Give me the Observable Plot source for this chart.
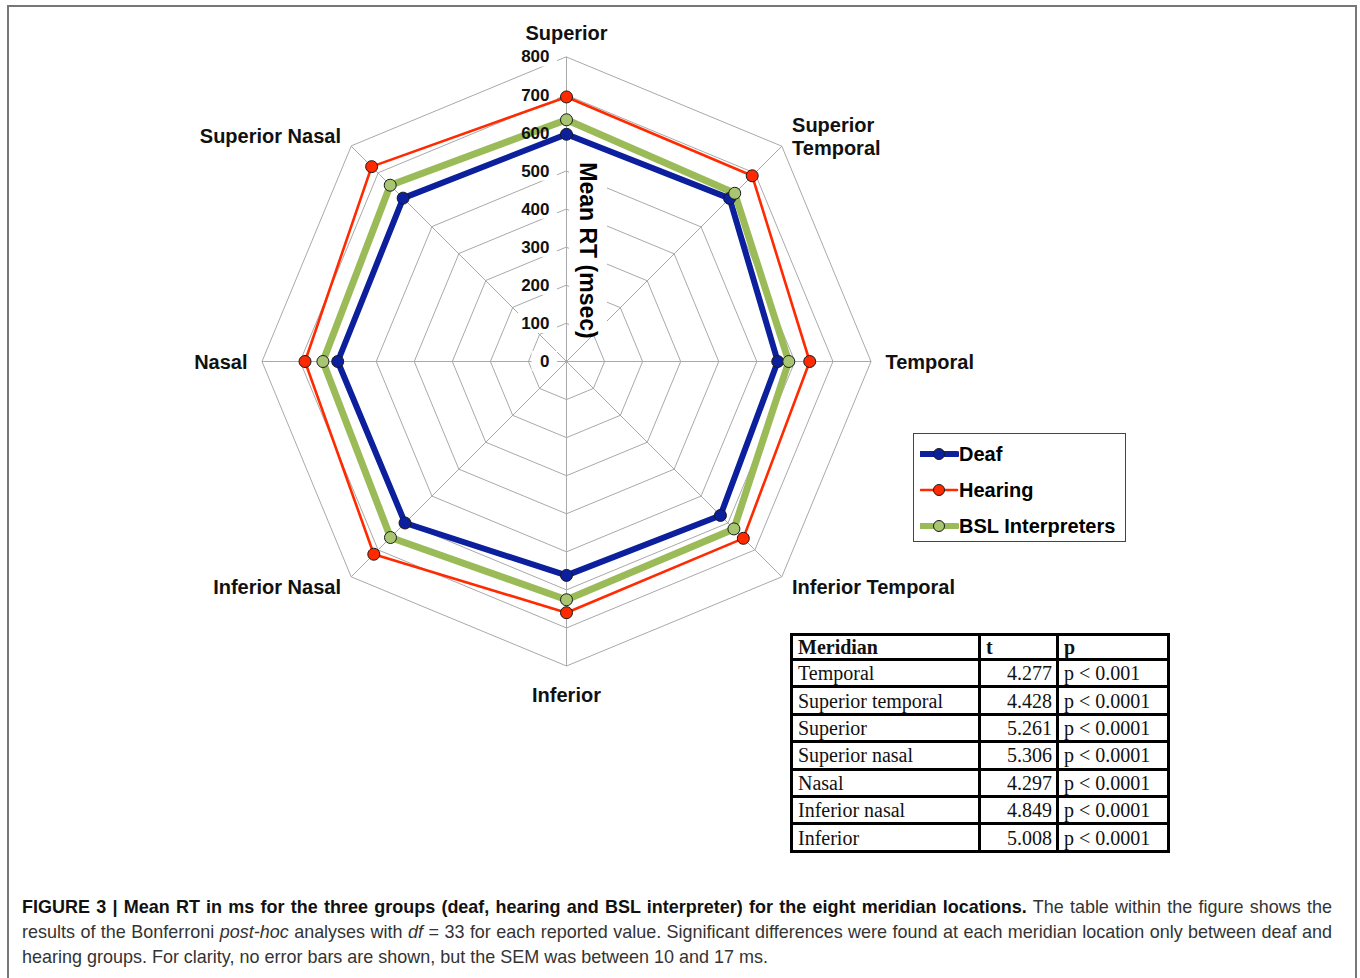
<!DOCTYPE html>
<html>
<head>
<meta charset="utf-8">
<script src="https://cdn.jsdelivr.net/npm/d3@7"></script>
<script src="https://cdn.jsdelivr.net/npm/@observablehq/plot@0.6"></script>
<style>
  html, body { margin: 0; padding: 0; background: #fff; }
  #page { position: relative; width: 1360px; height: 978px; overflow: hidden; background: #fff; }
  #frame { position: absolute; left: 7px; top: 5px; width: 1350px; height: 1010px; box-sizing: border-box;
           border: 2px solid #777; border-bottom: none; pointer-events: none; }
  #chart { position: absolute; left: 0; top: 0; }
  #legend { position: absolute; left: 913px; top: 433px; width: 213px; height: 109px; box-sizing: border-box;
            border: 1.5px solid #444; background: #fff; font-family: "Liberation Sans", Arial, sans-serif; }
  .lrow { position: absolute; left: 6px; height: 20px; display: flex; align-items: center; }
  .lrow span { font-weight: bold; font-size: 20px; color: #000; margin-left: 0px; }
  #tbl { position: absolute; left: 790px; top: 633px; border-collapse: collapse; font-family: "Liberation Serif", "Times New Roman", serif; font-size: 20px; color: #111; }
  #tbl td { border: 3px solid #000; padding: 0 4px 0 5px; height: 24.4px; line-height: 22px; white-space: nowrap; }
  #tbl tr.hd td { height: 22px; font-weight: bold; }
  #caption { position: absolute; left: 22px; top: 894px; width: 1310px; font-family: "Liberation Sans", Arial, sans-serif; font-size: 19px; color: #333; }
  .cl { height: 25px; line-height: 25px; white-space: nowrap; }
  .cl span { display: inline-block; transform-origin: left center; }
  .cl b { color: #111; }
</style>
</head>
<body>
<div id="page">
  <div id="chart"></div>
  <div id="legend"></div>
  <table id="tbl"></table>
  <div id="caption"></div>
  <div id="frame"></div>
</div>
<script>
// ---------------- DATA ----------------
const categories = ["Superior", "Superior\nTemporal", "Temporal", "Inferior Temporal", "Inferior", "Inferior Nasal", "Nasal", "Superior Nasal"];
const deaf    = [597, 606, 555, 572, 562, 600, 601, 607];
const hearing = [695, 690, 639, 657, 660, 716, 687, 724];
const bsl     = [635, 625, 584, 622, 626, 654, 640, 655];
const seriesNames = ["Deaf", "Hearing", "BSL Interpreters"];
const radialTicks = [0, 100, 200, 300, 400, 500, 600, 700, 800];
const axisTitle = "Mean RT (msec)";

const tableHeader = ["Meridian", "t", "p"];
const tableMeridian = ["Temporal", "Superior temporal", "Superior", "Superior nasal", "Nasal", "Inferior nasal", "Inferior"];
const tableT = ["4.277", "4.428", "5.261", "5.306", "4.297", "4.849", "5.008"];
const tableP = ["p < 0.001", "p < 0.0001", "p < 0.0001", "p < 0.0001", "p < 0.0001", "p < 0.0001", "p < 0.0001"];

const captionBold = "FIGURE 3 | Mean RT in ms for the three groups (deaf, hearing and BSL interpreter) for the eight meridian locations.";
const captionLines = [
  [captionBold, " The table within the figure shows the"],
  ["results of the Bonferroni ", "<i>post-hoc</i>", " analyses with ", "<i>df</i>", " = 33 for each reported value. Significant differences were found at each meridian location only between deaf and"],
  ["hearing groups. For clarity, no error bars are shown, but the SEM was between 10 and 17 ms."]
];

// ---------------- STYLE / LAYOUT ----------------
const seriesColor = ["#0c1f9c", "#ff2a00", "#9bbb59"];
const dotColor    = ["#0c1f9c", "#ff2a00", "#a8c672"];
const seriesWidth = [6, 2.6, 7];
const W = 1360, H = 880;
const CX = 566, CY = 361;           // centre, px
const RMAX = 800, RPX = 304.5;      // 800 units -> px
const PX = RPX / RMAX;
const u = px => px / PX;            // px length -> data units
const FONT = "Liberation Sans, Arial, sans-serif";

const ang = i => i * Math.PI / 4;
const px = (v, i) => v * Math.sin(ang(i));
const py = (v, i) => v * Math.cos(ang(i));

// rings
const rings = [];
radialTicks.filter(t => t > 0).forEach(t => {
  categories.forEach((c, i) => rings.push({ring: t, x: px(t, i), y: py(t, i)}));
});
const idx = categories.map((c, i) => i);

const series = [deaf, hearing, bsl].map((vals, s) => vals.map((v, i) => ({s, i, v, x: px(v, i), y: py(v, i)})));

// category labels
const labelRows = categories.map((c, i) => {
  let r = 838, anchor;
  const sn = Math.sin(ang(i));
  if (sn > 0.1) anchor = "start"; else if (sn < -0.1) anchor = "end"; else anchor = "middle";
  if (i === 0) r = 864;
  if (i === 4) r = 875;
  return {text: c, anchor, x: px(r, i), y: py(r, i)};
});

const marks = [
  Plot.line(rings, {x: "x", y: "y", z: "ring", curve: "linear-closed", stroke: "#a9a9a9", strokeWidth: 1}),
  Plot.link(idx, {x1: 0, y1: 0, x2: i => px(RMAX, i), y2: i => py(RMAX, i), stroke: "#a9a9a9", strokeWidth: 1}),
  // white boxes behind tick labels and axis title
  Plot.rect(radialTicks, {x1: d => -u(17 + String(d).length * 9.4 + 8), x2: -u(9), y1: d => d - u(10), y2: d => d + u(10), fill: "white"}),
  Plot.rect([axisTitle], {x1: u(3), x2: u(41), y1: u(CY - 333), y2: u(CY - 155), fill: "white"}),
];
series.forEach((rows, s) => {
  marks.push(Plot.line(rows, {x: "x", y: "y", curve: "linear-closed", stroke: seriesColor[s], strokeWidth: seriesWidth[s], strokeLinejoin: "miter"}));
});
series.forEach((rows, s) => {
  marks.push(Plot.dot(rows, {x: "x", y: "y", r: 6, fill: dotColor[s], stroke: "#1a1a1a", strokeWidth: 1}));
});
marks.push(
  Plot.text(radialTicks, {x: -u(17), y: d => d, text: d => String(d), textAnchor: "end", fontSize: 17, fontWeight: "bold", fill: "#111", fontFamily: FONT}),
  Plot.text([axisTitle], {x: u(587 - CX), y: u(CY - 250), text: d => d, rotate: 90, fontSize: 23, fontWeight: "bold", fill: "#000", fontFamily: FONT})
);
["start", "end", "middle"].forEach(a => {
  marks.push(Plot.text(labelRows.filter(d => d.anchor === a), {x: "x", y: "y", text: "text", textAnchor: a, fontSize: 20, fontWeight: "bold", fill: "#111", lineHeight: 1.15, fontFamily: FONT}));
});

const chart = Plot.plot({
  width: W, height: H,
  marginTop: 0, marginRight: 0, marginBottom: 0, marginLeft: 0,
  x: {domain: [-u(CX), u(W - CX)], range: [0, W], axis: null},
  y: {domain: [-u(H - CY), u(CY)], range: [H, 0], axis: null},
  style: {fontFamily: FONT, background: "transparent", overflow: "visible"},
  marks
});
document.getElementById("chart").appendChild(chart);

// ---------------- LEGEND ----------------
const legend = document.getElementById("legend");
const rowTops = [10, 46, 82];
seriesNames.forEach((name, s) => {
  const row = document.createElement("div");
  row.className = "lrow";
  row.style.top = rowTops[s] + "px";
  row.innerHTML = `<svg width="39" height="16" style="display:block">
    <line x1="1" x2="37" y1="8" y2="8" stroke="${seriesColor[s]}" stroke-width="${Math.min(seriesWidth[s], 6)}" stroke-linecap="round"/>
    <circle cx="19" cy="8" r="5.5" fill="${dotColor[s]}" stroke="#1a1a1a" stroke-width="1"/></svg><span>${name}</span>`;
  legend.appendChild(row);
});

// ---------------- TABLE ----------------
const tbl = document.getElementById("tbl");
let html = `<tr class="hd"><td style="width:176px">${tableHeader[0]}</td><td style="width:66px">${tableHeader[1]}</td><td style="width:99px">${tableHeader[2]}</td></tr>`;
tableMeridian.forEach((m, k) => {
  html += `<tr><td>${m}</td><td style="text-align:right">${tableT[k]}</td><td>${tableP[k].replace("<", "&lt;")}</td></tr>`;
});
tbl.innerHTML = html;

// ---------------- CAPTION ----------------
const cap = document.getElementById("caption");
captionLines.forEach((parts, k) => {
  const div = document.createElement("div");
  div.className = "cl";
  const span = document.createElement("span");
  span.innerHTML = parts.map(p => p === captionBold ? `<b>${p}</b>` : p).join("");
  div.appendChild(span);
  cap.appendChild(div);
});
// condense horizontally so the last line has its reference width; justify the others
const spans = cap.querySelectorAll(".cl span");
const w3 = spans[2].getBoundingClientRect().width;
const sx = 746 / w3;
spans[2].style.transform = `scaleX(${sx})`;
[0, 1].forEach(k => {
  const sp = spans[k];
  const w = sp.getBoundingClientRect().width;
  const target = 1310 / sx;
  const nSpaces = (sp.textContent.match(/ /g) || []).length;
  if (w < target) { sp.style.wordSpacing = ((target - w) / nSpaces) + "px"; sp.style.transform = `scaleX(${sx})`; }
  else sp.style.transform = `scaleX(${1310 / w})`;
});
</script>
</body>
</html>
